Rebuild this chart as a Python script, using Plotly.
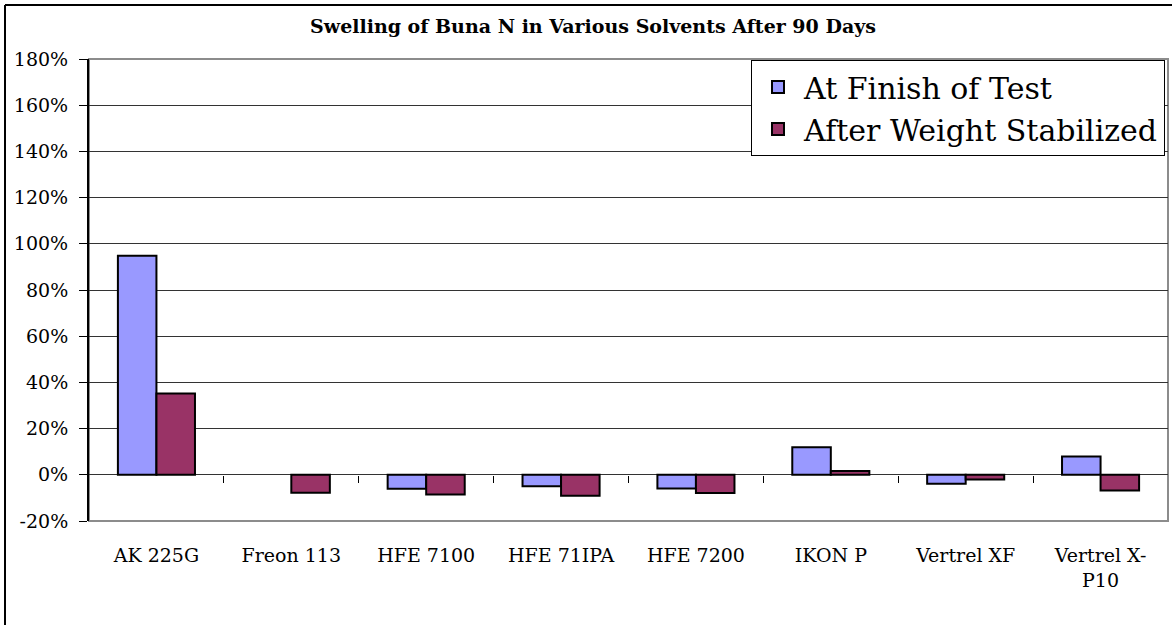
import plotly.graph_objects as go

categories = ["AK 225G", "Freon 113", "HFE 7100", "HFE 71IPA", "HFE 7200",
              "IKON P", "Vertrel XF", "Vertrel X-<br>P10"]
finish_of_test = [94.8, None, -6.0, -5.0, -5.9, 11.9, -3.9, 7.9]
after_stabilized = [35.2, -7.8, -8.5, -9.1, -7.9, 1.6, -2.0, -6.8]
y_ticks = [-20, 0, 20, 40, 60, 80, 100, 120, 140, 160, 180]
y_tick_labels = [f"{v}%" for v in y_ticks]
title_text = "Swelling of Buna N in Various Solvents After 90 Days"

SERIF = "DejaVu Serif"
W, H = 1172, 625
ML, MR, MT, MB = 89, 4, 59, 104
pw = W - ML - MR
ph = H - MT - MB

fig = go.Figure()
fig.add_trace(go.Bar(
    x=list(range(len(categories))), y=finish_of_test, name="At Finish of Test",
    marker=dict(color="#9999FF", line=dict(color="black", width=2)),
))
fig.add_trace(go.Bar(
    x=list(range(len(categories))), y=after_stabilized, name="After Weight Stabilized",
    marker=dict(color="#993366", line=dict(color="black", width=2)),
))
# invisible trace on the secondary x axis so its ticks are drawn at the zero line
fig.add_trace(go.Scatter(x=[0], y=[0], xaxis="x2", mode="markers",
                         marker=dict(opacity=0), showlegend=False, hoverinfo="skip"))

fig.update_layout(
    width=W, height=H,
    margin=dict(l=ML, r=MR, t=MT, b=MB, autoexpand=False),
    paper_bgcolor="white", plot_bgcolor="white",
    barmode="group", bargap=1.5 / 3.5, bargroupgap=0,
    title=dict(text=f"<b>{title_text}</b>", x=593 / W, xanchor="center",
               y=1 - 26 / H, yanchor="middle",
               font=dict(family=SERIF, size=19, color="black")),
    font=dict(family=SERIF, color="black"),
    legend=dict(x=(751 - ML) / pw, y=1 - 1 / ph, xanchor="left", yanchor="top",
                bgcolor="white", bordercolor="black", borderwidth=1,
                font=dict(family=SERIF, size=30, color="black"),
                itemwidth=42, tracegroupgap=6),
    xaxis=dict(range=[-0.5, len(categories) - 0.5],
               tickvals=list(range(len(categories))), ticktext=categories,
               showgrid=False, zeroline=False, showline=False, ticks="",
               tickfont=dict(family=SERIF, size=19, color="black"),
               ticklabelstandoff=21),
    xaxis2=dict(overlaying="x", anchor="free", position=0.1, side="bottom",
                range=[-0.5, len(categories) - 0.5],
                tickvals=[i + 0.5 for i in range(len(categories) - 1)],
                ticks="outside", ticklen=7, tickwidth=1, tickcolor="black",
                showticklabels=False, showgrid=False, zeroline=False, showline=False),
    yaxis=dict(range=[-20, 180], tickvals=y_ticks, ticktext=y_tick_labels,
               showgrid=True, gridcolor="#333333", gridwidth=1,
               zeroline=True, zerolinecolor="#333333", zerolinewidth=1,
               showline=True, linecolor="black", linewidth=2,
               ticks="outside", ticklen=8, tickcolor="black", tickwidth=1,
               ticklabelstandoff=7,
               tickfont=dict(family=SERIF, size=19, color="black")),
)

# plot-area border (gray top, right and bottom)
fig.add_shape(type="rect", xref="paper", yref="paper", x0=0, x1=1, y0=0, y1=1,
              line=dict(color="#8c8c8c", width=2), layer="below")
# outer chart border: top and left edges (the others fall outside the picture)
top_y = 1 + (MT - 5) / ph
left_x = (5 - ML) / pw
bottom_y = -(H + 5 - MT - ph) / ph
right_x = (W + 5 - ML) / pw
fig.add_shape(type="line", xref="paper", yref="paper", x0=left_x, x1=right_x,
              y0=top_y, y1=top_y, line=dict(color="black", width=2))
fig.add_shape(type="line", xref="paper", yref="paper", x0=left_x, x1=left_x,
              y0=bottom_y, y1=top_y, line=dict(color="black", width=2))

fig.write_html("out.html", config={"displayModeBar": False},
               post_script="document.body.style.margin='0';document.body.style.overflow='hidden';")
